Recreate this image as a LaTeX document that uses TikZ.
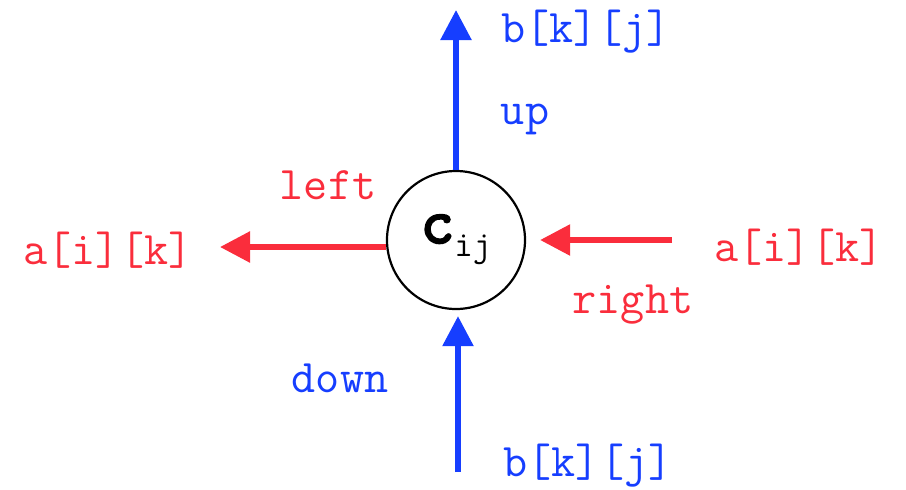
\documentclass[tikz,border=0pt]{standalone}
\usepackage{fontspec}
\newfontfamily\cfont{lmmono10-regular.otf}[FakeBold=3]
\usetikzlibrary{arrows.meta}
\definecolor{myblue}{RGB}{22,62,255}
\definecolor{myred}{RGB}{250,45,60}
\tikzset{
  flow/.style={line width=2.8pt, -{Triangle[length=15pt,width=15pt]}},
  lbl/.style={font=\ttfamily\fontsize{23.4}{26}\selectfont, inner sep=0pt}
}
\begin{document}
\begin{tikzpicture}[x=0.5pt, y=-0.5pt]
    \useasboundingbox (0,0) rectangle (906,489);

    \node[circle, draw, line width=1.1pt, minimum size=69pt, inner sep=0pt] (cij) at (456,240)
        {{\cfont\fontsize{32}{34}\selectfont c}\raisebox{-7pt}{\ttfamily\fontsize{18}{20}\selectfont ij}};

    % b moves up
    \coordinate (upend) at (456,10);
    \draw[flow, myblue] (cij.north) -- (upend);
    \node[lbl, myblue] (btop) at (586,32) {b[k][j]};
    \node[lbl, myblue] (up) at (525,119) {up};

    % b comes from below
    \coordinate (downstart) at (458,472);
    \draw[flow, myblue, shorten >=3pt] (downstart) -- (cij.south -| downstart);
    \node[lbl, myblue] (bbot) at (588,466) {b[k][j]};
    \node[lbl, myblue] (down) at (340,378) {down};

    % a moves left
    \coordinate (leftend) at (220,247);
    \draw[flow, myred] (cij.west |- leftend) -- (leftend);
    \node[lbl, myred] (aleft) at (108,250) {a[i][k]};
    \node[lbl, myred] (left) at (328,185) {left};

    % a comes from the right
    \coordinate (rightstart) at (672,240);
    \draw[flow, myred, shorten >=7pt] (rightstart) -- (cij.east);
    \node[lbl, myred] (aright) at (799,247) {a[i][k]};
    \node[lbl, myred] (right) at (633,305) {right};
\end{tikzpicture}
\end{document}
